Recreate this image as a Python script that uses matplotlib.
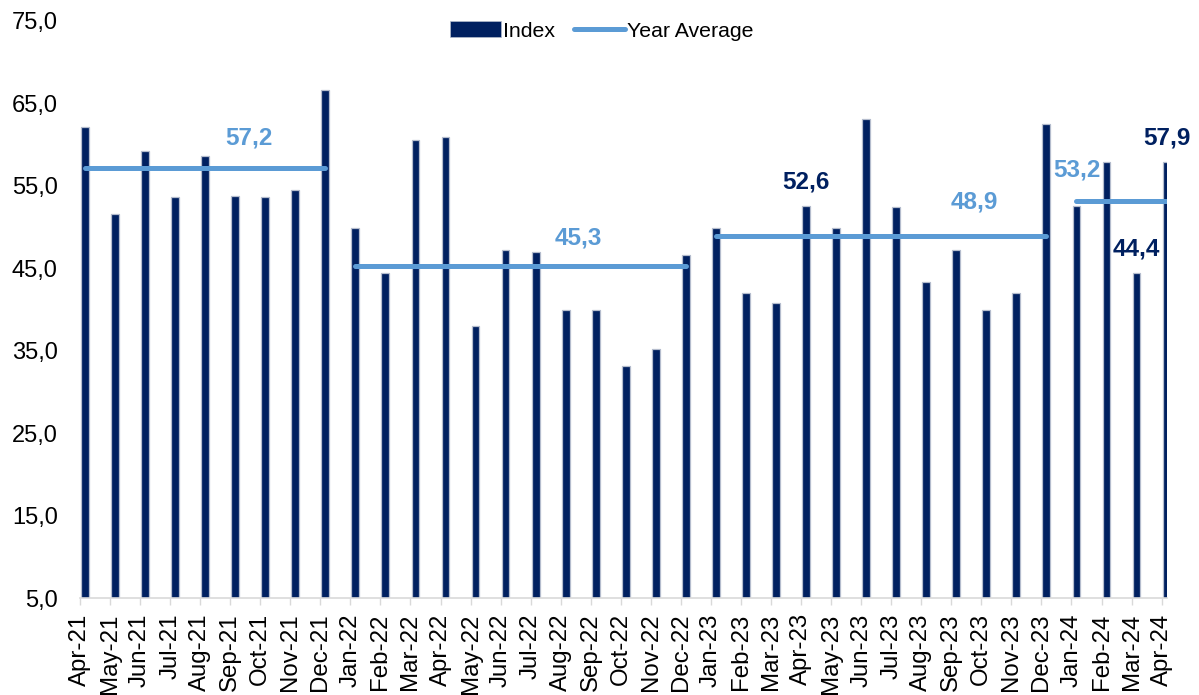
import numpy as np
import matplotlib
matplotlib.use("Agg")
import matplotlib.pyplot as plt
from matplotlib.ticker import FuncFormatter, FixedLocator
from matplotlib.lines import Line2D
from matplotlib.patches import Patch

plt.rcParams["font.family"] = ["Liberation Sans", "DejaVu Sans"]

NAVY = "#002060"
LIGHT_BLUE = "#5b9bd5"
AXIS_GREY = "#d9d9d9"

months = ["Apr-21", "May-21", "Jun-21", "Jul-21", "Aug-21", "Sep-21", "Oct-21", "Nov-21", "Dec-21",
          "Jan-22", "Feb-22", "Mar-22", "Apr-22", "May-22", "Jun-22", "Jul-22", "Aug-22", "Sep-22",
          "Oct-22", "Nov-22", "Dec-22",
          "Jan-23", "Feb-23", "Mar-23", "Apr-23", "May-23", "Jun-23", "Jul-23", "Aug-23", "Sep-23",
          "Oct-23", "Nov-23", "Dec-23",
          "Jan-24", "Feb-24", "Mar-24", "Apr-24"]
index_values = [62.1, 51.6, 59.2, 53.6, 58.6, 53.8, 53.6, 54.5, 66.6,
                49.9, 44.4, 60.6, 60.9, 38.0, 47.2, 47.0, 40.0, 40.0, 33.2, 35.2, 46.6,
                49.9, 42.0, 40.8, 52.6, 49.9, 63.1, 52.4, 43.3, 47.2, 40.0, 42.0, 62.5,
                52.6, 57.9, 44.4, 57.9]
years = ["21", "22", "23", "24"]
year_average = [57.2, 45.3, 48.9, 53.2]
labelled_months = ["Apr-23", "Mar-24", "Apr-24"]


def fmt(v):
    return f"{v:.1f}".replace(".", ",")


fig = plt.figure(figsize=(11.99, 6.95), dpi=100)
ax = fig.add_axes([80 / 1199, 97 / 695, (1167 - 80) / 1199, (598 - 21) / 695])

x = np.arange(len(months))
bar_off = 0.165
ax.bar(x + bar_off, index_values, width=0.26, bottom=0, color=NAVY,
       edgecolor="#b4bccd", linewidth=0.9, zorder=2)

# year average segments, first to last month of each year
avg_label_pos = [(5.62, 30), (16.57, 28), (29.78, 34), (33.18, 31)]
for yr, avg, (lx, dy) in zip(years, year_average, avg_label_pos):
    idx = [i for i, m in enumerate(months) if m.endswith(yr)]
    ax.plot([idx[0] + bar_off, idx[-1] + bar_off], [avg, avg], color=LIGHT_BLUE,
            lw=3.6, solid_capstyle="round", zorder=3)
    ax.annotate(fmt(avg), (lx, avg), xytext=(0, dy), textcoords="offset pixels",
                ha="center", va="center", fontsize=17.5, fontweight="bold",
                color=LIGHT_BLUE, zorder=4)

for m in labelled_months:
    i = months.index(m)
    v = index_values[i]
    ax.annotate(fmt(v), (i + bar_off, v), xytext=(0, 24), textcoords="offset pixels",
                ha="center", va="center", fontsize=17.5, fontweight="bold",
                color=NAVY, zorder=4, annotation_clip=False)

ax.set_ylim(5, 75)
ax.set_xlim(0, 36.18)
ax.yaxis.set_major_locator(FixedLocator(np.arange(5, 76, 10)))
ax.yaxis.set_major_formatter(FuncFormatter(lambda v, p: fmt(v)))
ax.set_xticks(x)
ax.set_xticklabels(months, rotation=90)
ax.tick_params(axis="y", length=0, pad=16, labelsize=17)
ax.tick_params(axis="x", length=5, width=1, color=AXIS_GREY, pad=6, labelsize=17.3)

for s in ["top", "right", "left"]:
    ax.spines[s].set_visible(False)
ax.spines["bottom"].set_color(AXIS_GREY)
ax.spines["bottom"].set_linewidth(1.2)

handles = [Patch(facecolor=NAVY, edgecolor="#b4bccd", linewidth=0.5),
           Line2D([0], [0], color=LIGHT_BLUE, lw=3.6, solid_capstyle="round")]
fig.legend(handles, ["Index", "Year Average"], loc="center", ncol=2,
           bbox_to_anchor=(602 / 1199, 1 - 31 / 695), frameon=False, fontsize=15.3,
           handlelength=2.4, handleheight=0.75, handletextpad=0.1, columnspacing=0.9)

fig.savefig("out.png", dpi=100)
